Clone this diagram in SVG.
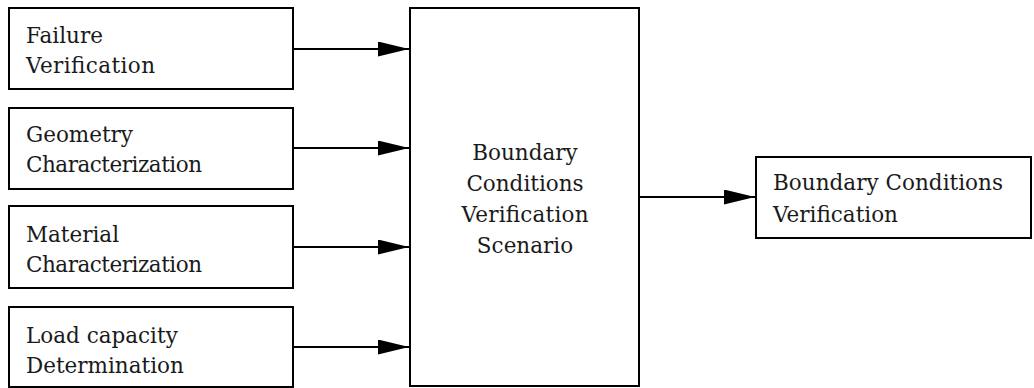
<svg xmlns="http://www.w3.org/2000/svg" width="1034" height="388" viewBox="0 0 1034 388">
<style>
.box{fill:#fff;stroke:#000;stroke-width:2}
.t{font-family:'DejaVu Serif','Liberation Serif',serif;font-size:21.5px;fill:#1a1a1a}
.c{text-anchor:middle}
.ln{stroke:#000;stroke-width:2;fill:none}
</style>
<defs>
<marker id="ah" markerUnits="userSpaceOnUse" markerWidth="32" markerHeight="16" refX="31" refY="7.5" orient="auto">
<path d="M0,0 L31,7.5 L0,15 Z" fill="#000"/>
</marker>
</defs>
<rect width="1034" height="388" fill="#fff"/>
<g id="n1"><rect class="box" x="9" y="8" width="284" height="81"/><text class="t" x="26" y="43">Failure</text><text class="t" x="26" y="73" textLength="129">Verification</text></g>
<g id="n2"><rect class="box" x="9" y="108" width="284" height="81"/><text class="t" x="26" y="142">Geometry</text><text class="t" x="26" y="172" textLength="176">Characterization</text></g>
<g id="n3"><rect class="box" x="9" y="206" width="284" height="82"/><text class="t" x="26" y="242">Material</text><text class="t" x="26" y="272" textLength="176">Characterization</text></g>
<g id="n4"><rect class="box" x="9" y="307" width="284" height="80"/><text class="t" x="26" y="343">Load capacity</text><text class="t" x="26" y="373">Determination</text></g>
<g id="center"><rect class="box" x="410" y="8" width="229" height="378"/>
<text class="t c" x="525" y="160">Boundary</text><text class="t c" x="525" y="191">Conditions</text><text class="t c" x="525" y="222" textLength="127">Verification</text><text class="t c" x="525" y="253">Scenario</text></g>
<g id="out"><rect class="box" x="756" y="157" width="275" height="81"/><text class="t" x="773" y="190" textLength="230">Boundary Conditions</text><text class="t" x="773" y="222">Verification</text></g>
<g id="connectors">
<line class="ln" x1="293" y1="49" x2="409" y2="49" marker-end="url(#ah)"/>
<line class="ln" x1="293" y1="148" x2="409" y2="148" marker-end="url(#ah)"/>
<line class="ln" x1="293" y1="247" x2="409" y2="247" marker-end="url(#ah)"/>
<line class="ln" x1="293" y1="347" x2="409" y2="347" marker-end="url(#ah)"/>
<line class="ln" x1="639" y1="197" x2="755" y2="197" marker-end="url(#ah)"/>
</g>
</svg>
